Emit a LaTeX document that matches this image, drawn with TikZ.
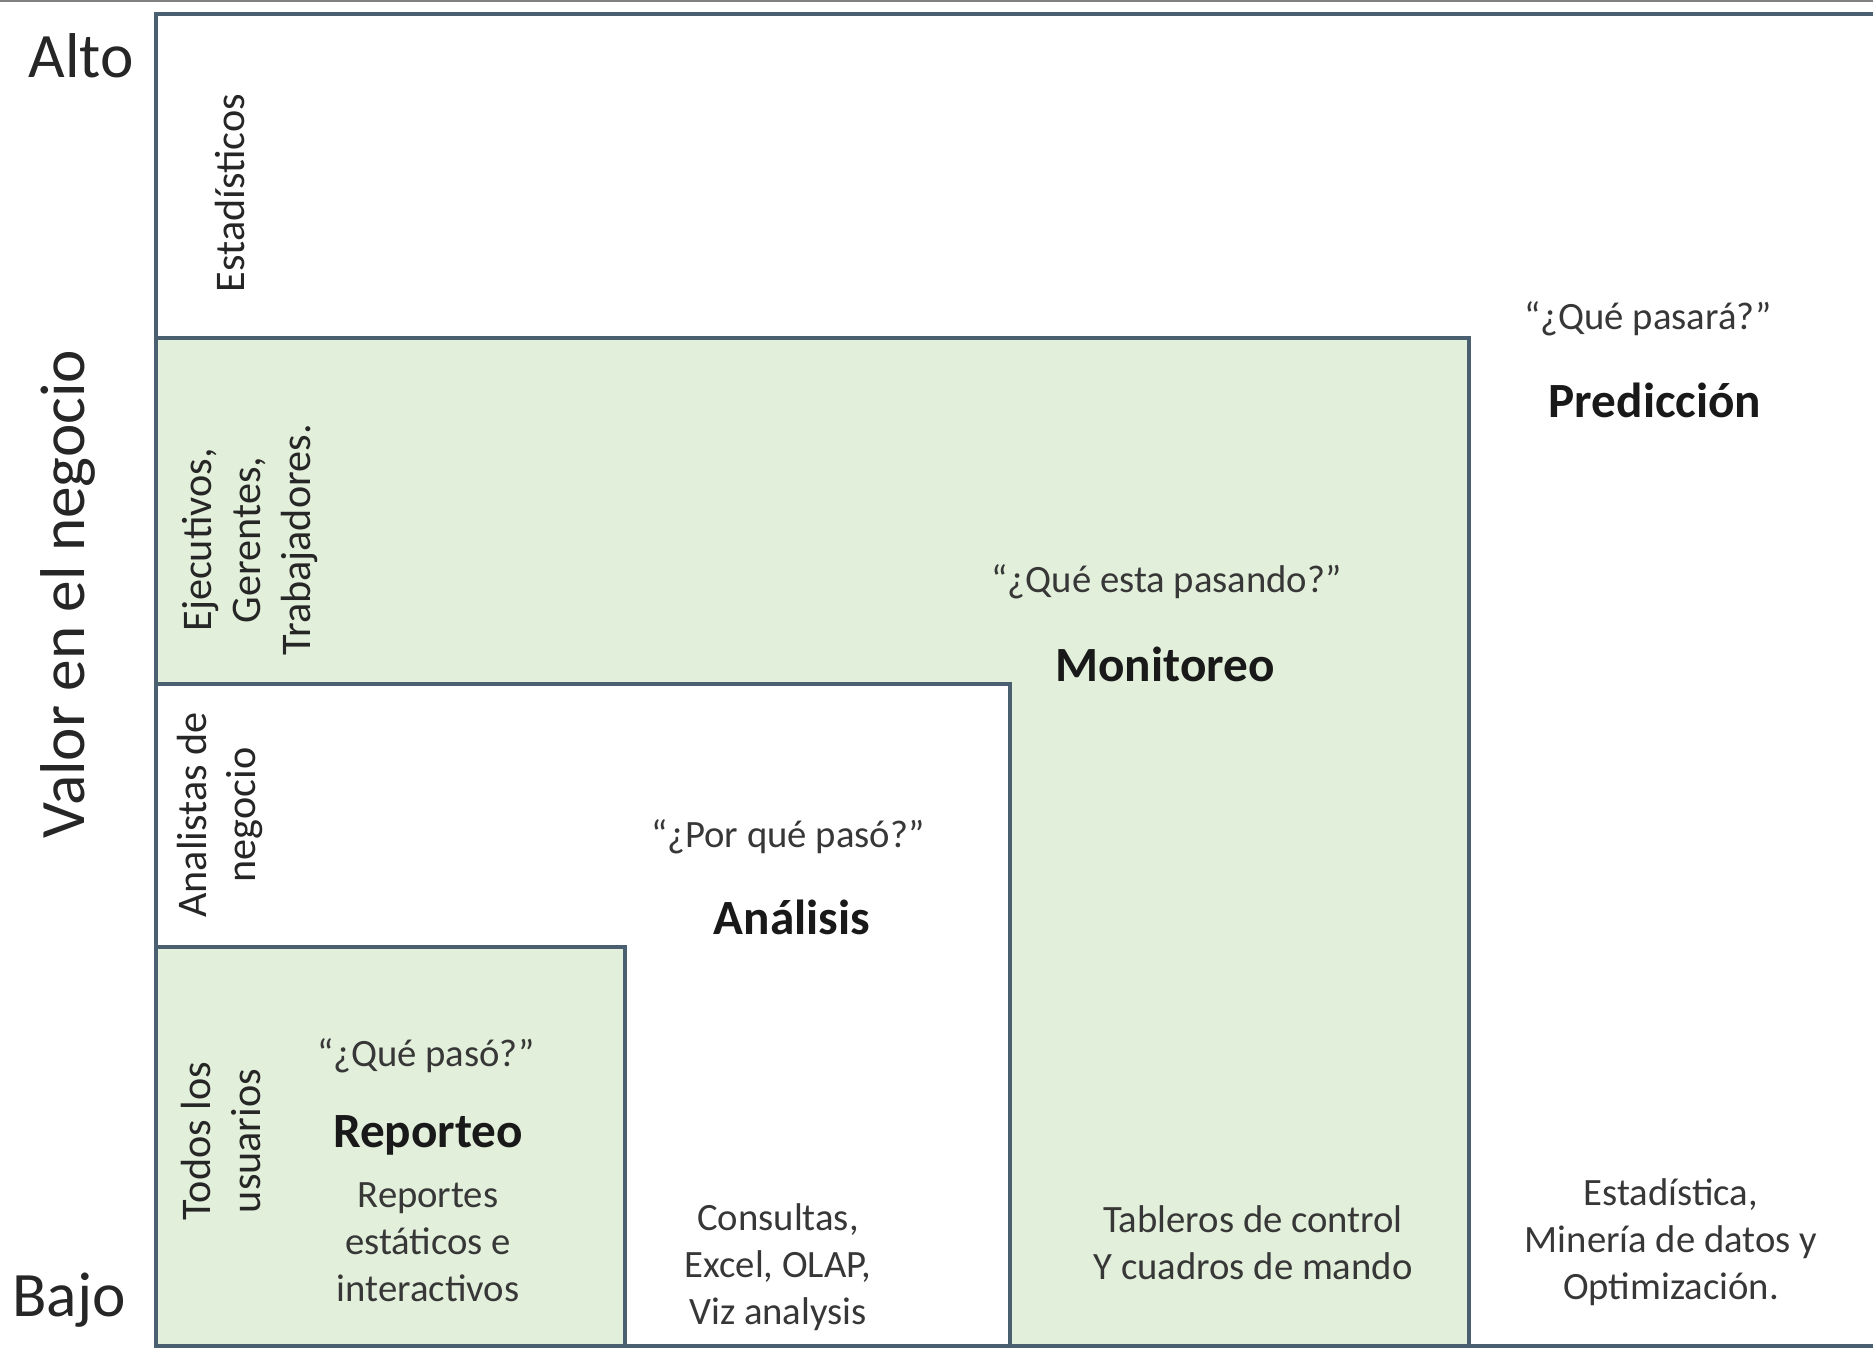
\documentclass[tikz,border=0pt]{standalone}
\usepackage{fontspec}
\setmainfont{Carlito}
\definecolor{boxgreen}{RGB}{226,239,218}
\definecolor{boxline}{RGB}{74,96,112}
\definecolor{qtext}{RGB}{55,55,55}
\tikzstyle{frame} = [draw = boxline, line width = 1.2pt]
\tikzstyle{green box} = [frame, fill = boxgreen]
\tikzstyle{white box} = [frame, fill = white]
\tikzstyle{axis label} = [font = \fontsize{18}{22}\selectfont, text = black!85]
\tikzstyle{user label} = [rotate = 90, align = center, font = \fontsize{12}{14.2}\selectfont, text = black!85]
\tikzstyle{question} = [font = \fontsize{11}{13}\selectfont, text = qtext]
\tikzstyle{stage} = [font = \fontsize{14}{16}\selectfont\bfseries, text = black!90]
\tikzstyle{tools} = [align = center, font = \fontsize{11}{13.4}\selectfont, text = qtext]

\begin{document}
\begin{tikzpicture}[x = 0.01cm, y = -0.01cm]
    \useasboundingbox (0, 0) rectangle (1873, 1352);
    \draw [gray, line width = 0.6pt] (0, 1) -- (1873, 1);

    % nested areas
    \draw [frame] (1873, 14) -- (156, 14) -- (156, 1346) -- (1873, 1346);
    \draw [green box] (156, 338) rectangle (1469, 1346);
    \draw [white box] (156, 684) rectangle (1010, 1346);
    \draw [green box] (156, 947) rectangle (625, 1346);

    % axis
    \node [axis label] (alto) at (81, 56) {Alto};
    \node [axis label] (bajo) at (69, 1300) {Bajo};
    \node [axis label, rotate = 90] (valor) at (68, 594) {Valor en el negocio};

    % users
    \node [user label] (estadisticos) at (230, 193) {Estadísticos};
    \node [user label] (ejecutivos) at (250, 540) {Ejecutivos,\\Gerentes,\\Trabajadores.};
    \node [user label] (analistas) at (220, 815) {Analistas de\\negocio};
    \node [user label] (todos) at (221, 1141) {Todos los\\usuarios};

    % stages
    \node [question] (qpasara) at (1648, 319) {“¿Qué pasará?”};
    \node [stage] (prediccion) at (1655, 400) {Predicción};
    \node [question] (qpasando) at (1167, 582) {“¿Qué esta pasando?”};
    \node [stage] (monitoreo) at (1165, 664) {Monitoreo};
    \node [question] (qporque) at (788, 837) {“¿Por qué pasó?”};
    \node [stage] (analisis) at (792, 917) {Análisis};
    \node [question] (qpaso) at (426, 1056) {“¿Qué pasó?”};
    \node [stage] (reporteo) at (428, 1135) {Reporteo};

    % tools
    \node [tools] (reportes) at (428, 1242) {Reportes\\estáticos e\\interactivos};
    \node [tools] (consultas) at (778, 1267) {Consultas,\\Excel, OLAP,\\Viz analysis};
    \node [tools] (tableros) at (1253, 1243) {Tableros de control\\Y cuadros de mando};
    \node [tools] (estadistica) at (1671, 1242) {Estadística,\\Minería de datos y\\Optimización.};
\end{tikzpicture}
\end{document}
